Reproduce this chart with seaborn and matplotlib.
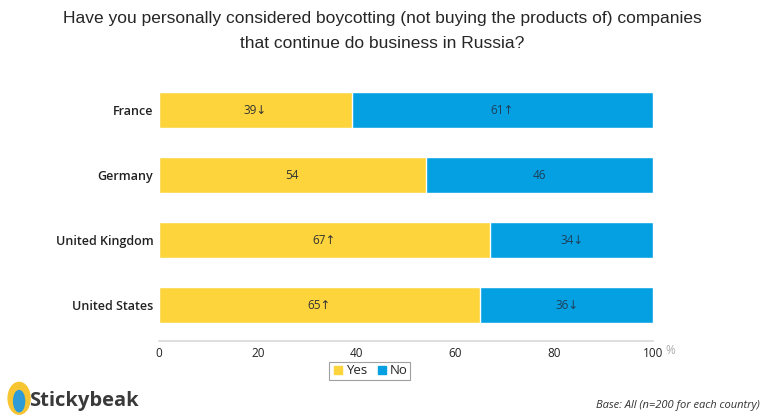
import pandas as pd
import matplotlib.pyplot as plt
import seaborn as sns
from matplotlib.patches import Ellipse
from matplotlib.lines import Line2D

# data
countries = ["France", "Germany", "United Kingdom", "United States"]
yes_vals = [39, 54, 67, 65]
no_vals = [61, 46, 34, 36]
yes_marks = ["\u2193", "", "\u2191", "\u2191"]
no_marks = ["\u2191", "", "\u2193", "\u2193"]
ticks = [0, 20, 40, 60, 80, 100]

yellow = "#FDD43C"
blue = "#05A0E2"

df = pd.DataFrame({"Country": countries, "Yes": yes_vals, "No": no_vals})
df["Full"] = 100

sns.set_style("white")
plt.rcParams['font.family'] = ['Open Sans', 'DejaVu Sans']

fig = plt.figure(figsize=(7.64, 4.16), dpi=100)
ax = fig.add_axes([0.208, 0.180, 0.647, 0.625])

# blue = remainder, yellow drawn over it
sns.barplot(data=df, y="Country", x="Full", color=blue, width=0.55,
            saturation=1, ax=ax, orient="h")
sns.barplot(data=df, y="Country", x="Yes", color=yellow, width=0.55,
            saturation=1, ax=ax, orient="h")

for i, (y, n) in enumerate(zip(yes_vals, no_vals)):
    ax.text(y / 2, i, f"{y}{yes_marks[i]}", ha="center", va="center",
            fontsize=8.5, color="#333333", family=['Open Sans', 'DejaVu Sans'])
    ax.text((y + 100) / 2, i, f"{n}{no_marks[i]}", ha="center", va="center",
            fontsize=8.5, color="#1f3f5a", family=['Open Sans', 'DejaVu Sans'])

ax.set_xlim(0, 100)
ax.set_ylim(3.55, -0.45)
ax.set_xticks(ticks)
ax.set_xticklabels([str(t) for t in ticks], fontsize=8.5, color="#222222")
ax.tick_params(axis="x", length=0, pad=4)
ax.tick_params(axis="y", length=0, pad=4)
ax.set_yticks(range(len(countries)))
ax.set_yticklabels(countries, fontsize=9, fontweight="semibold", color="#222222")
ax.set_xlabel("")
ax.set_ylabel("")
for s in ["top", "right", "left"]:
    ax.spines[s].set_visible(False)
ax.spines["bottom"].set_color("#d9d9d9")
ax.spines["bottom"].set_linewidth(1.2)
fig.text(665 / 764, 1 - 350 / 416, "%", fontsize=8.5, color="#aaaaaa",
         va="center", ha="left")

# legend
handles = [Line2D([], [], marker="s", ls="", color=yellow, markersize=6),
           Line2D([], [], marker="s", ls="", color=blue, markersize=6)]
leg = fig.legend(handles, ["Yes", "No"], loc="center", ncol=2,
                 bbox_to_anchor=(0.484, 0.109), fontsize=9.5, frameon=True,
                 fancybox=False, edgecolor="#888888", handletextpad=0.1,
                 columnspacing=0.6, handlelength=1.0, borderpad=0.2)
leg.get_frame().set_linewidth(0.8)

fig.text(0.5, 0.955, "Have you personally considered boycotting (not buying the products of) companies",
         ha="center", va="center", fontsize=12.5, family="Liberation Sans")
fig.text(0.5, 0.895, "that continue do business in Russia?",
         ha="center", va="center", fontsize=12.5, family="Liberation Sans")

fig.text(0.995, 0.025, "Base: All (n=200 for each country)", ha="right", va="center",
         fontsize=8, style="italic", color="#333333")

# logo
lax = fig.add_axes([0.005, 0.0, 0.04, 0.085])
lax.set_xlim(0, 1)
lax.set_ylim(0, 1)
lax.axis("off")
lax.add_patch(Ellipse((0.5, 0.5), 0.72, 0.9, color="#F7C531"))
lax.add_patch(Ellipse((0.5, 0.42), 0.36, 0.6, color="#2E9BD6"))
fig.text(0.038, 0.035, "Stickybeak", fontsize=14.5, fontweight="bold",
         color="#3a3a3a", va="center", ha="left")

fig.savefig("out.png", dpi=100)
